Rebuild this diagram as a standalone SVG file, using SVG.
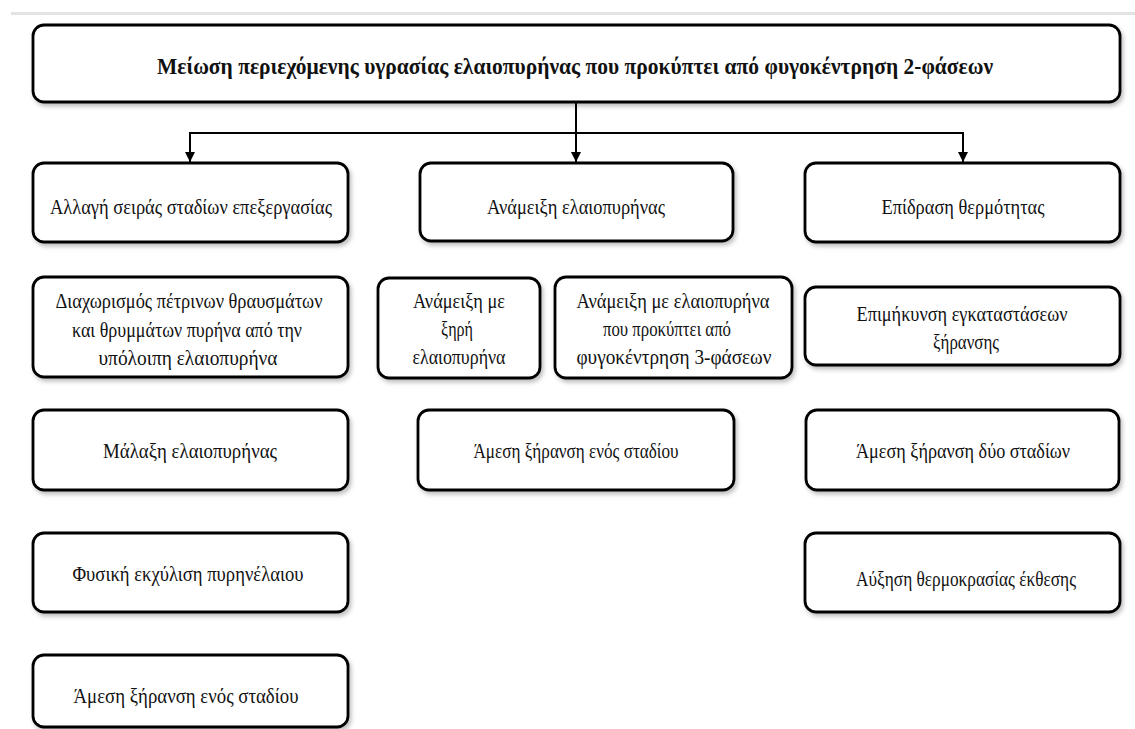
<svg xmlns="http://www.w3.org/2000/svg" width="1135" height="729" viewBox="0 0 1135 729">
<defs>
<filter id="sh" x="-5%" y="-10%" width="115%" height="130%">
<feDropShadow dx="2" dy="3" stdDeviation="2" flood-color="#000" flood-opacity="0.25"/>
</filter>
<marker id="arr" viewBox="0 0 10 10" refX="10" refY="5" markerWidth="5" markerHeight="5" markerUnits="strokeWidth" orient="auto">
<path d="M0,0 L10,5 L0,10 Z" fill="#000"/>
</marker>
</defs>
<style>
.box{fill:#fff;stroke:#000;stroke-width:2.8;filter:url(#sh)}
.t{font-family:"Liberation Serif","Times New Roman",serif;font-size:22px;fill:#111;text-anchor:middle}
.title{font-family:"Liberation Serif","Times New Roman",serif;font-size:23px;font-weight:bold;fill:#111;text-anchor:middle}
.conn{stroke:#000;stroke-width:2;fill:none}
</style>
<rect width="1135" height="729" fill="#fff"/>
<line x1="11" y1="13.5" x2="1135" y2="13.5" stroke="#e3e3e3" stroke-width="3"/>

<g id="title">
<rect class="box" x="33" y="25" width="1087" height="77" rx="11"/>
<text class="title" x="575" y="74" textLength="836" lengthAdjust="spacingAndGlyphs">Μείωση περιεχόμενης υγρασίας ελαιοπυρήνας που προκύπτει από φυγοκέντρηση 2-φάσεων</text>
</g>

<g id="connectors">
<line class="conn" x1="576" y1="103" x2="576" y2="162" marker-end="url(#arr)"/>
<line class="conn" x1="190" y1="133" x2="963" y2="133"/>
<line class="conn" x1="190" y1="132" x2="190" y2="162" marker-end="url(#arr)"/>
<line class="conn" x1="963" y1="132" x2="963" y2="162" marker-end="url(#arr)"/>
</g>

<g id="a1">
<rect class="box" x="33" y="163" width="315" height="79" rx="11"/>
<text class="t" x="191" y="214" textLength="282" lengthAdjust="spacingAndGlyphs">Αλλαγή σειράς σταδίων επεξεργασίας</text>
</g>
<g id="a2">
<rect class="box" x="33" y="277" width="315" height="100" rx="11"/>
<text class="t" x="189" y="308" textLength="267" lengthAdjust="spacingAndGlyphs">Διαχωρισμός πέτρινων θραυσμάτων</text>
<text class="t" x="187" y="337" textLength="230" lengthAdjust="spacingAndGlyphs">και θρυμμάτων πυρήνα από την</text>
<text class="t" x="188" y="365" textLength="179" lengthAdjust="spacingAndGlyphs">υπόλοιπη ελαιοπυρήνα</text>
</g>
<g id="a3">
<rect class="box" x="33" y="410" width="315" height="80" rx="11"/>
<text class="t" x="190" y="458" textLength="174" lengthAdjust="spacingAndGlyphs">Μάλαξη ελαιοπυρήνας</text>
</g>
<g id="a4">
<rect class="box" x="33" y="533" width="315" height="79" rx="11"/>
<text class="t" x="188" y="581" textLength="231" lengthAdjust="spacingAndGlyphs">Φυσική εκχύλιση πυρηνέλαιου</text>
</g>
<g id="a5">
<rect class="box" x="33" y="655" width="315" height="72" rx="11"/>
<text class="t" x="186" y="703" textLength="225" lengthAdjust="spacingAndGlyphs">Άμεση ξήρανση ενός σταδίου</text>
</g>

<g id="b1">
<rect class="box" x="420" y="163" width="313" height="78" rx="11"/>
<text class="t" x="576" y="214" textLength="178" lengthAdjust="spacingAndGlyphs">Ανάμειξη ελαιοπυρήνας</text>
</g>
<g id="b2a">
<rect class="box" x="378" y="278" width="162" height="100" rx="11"/>
<text class="t" x="459" y="308" textLength="92" lengthAdjust="spacingAndGlyphs">Ανάμειξη με</text>
<text class="t" x="457" y="336" textLength="32" lengthAdjust="spacingAndGlyphs">ξηρή</text>
<text class="t" x="459" y="364" textLength="93" lengthAdjust="spacingAndGlyphs">ελαιοπυρήνα</text>
</g>
<g id="b2b">
<rect class="box" x="555" y="277" width="237" height="101" rx="11"/>
<text class="t" x="673" y="308" textLength="193" lengthAdjust="spacingAndGlyphs">Ανάμειξη με ελαιοπυρήνα</text>
<text class="t" x="667" y="336" textLength="128" lengthAdjust="spacingAndGlyphs">που προκύπτει από</text>
<text class="t" x="674" y="364" textLength="195" lengthAdjust="spacingAndGlyphs">φυγοκέντρηση 3-φάσεων</text>
</g>
<g id="b3">
<rect class="box" x="418" y="410" width="316" height="80" rx="11"/>
<text class="t" x="576" y="458" textLength="205" lengthAdjust="spacingAndGlyphs">Άμεση ξήρανση ενός σταδίου</text>
</g>

<g id="c1">
<rect class="box" x="805" y="163" width="315" height="79" rx="11"/>
<text class="t" x="963" y="214" textLength="163" lengthAdjust="spacingAndGlyphs">Επίδραση θερμότητας</text>
</g>
<g id="c2">
<rect class="box" x="805" y="287" width="315" height="78" rx="11"/>
<text class="t" x="962" y="321" textLength="211" lengthAdjust="spacingAndGlyphs">Επιμήκυνση εγκαταστάσεων</text>
<text class="t" x="966" y="349" textLength="66" lengthAdjust="spacingAndGlyphs">ξήρανσης</text>
</g>
<g id="c3">
<rect class="box" x="806" y="410" width="313" height="80" rx="11"/>
<text class="t" x="963" y="458" textLength="214" lengthAdjust="spacingAndGlyphs">Άμεση ξήρανση δύο σταδίων</text>
</g>
<g id="c4">
<rect class="box" x="805" y="533" width="315" height="79" rx="11"/>
<text class="t" x="966" y="586" textLength="220" lengthAdjust="spacingAndGlyphs">Αύξηση θερμοκρασίας έκθεσης</text>
</g>
</svg>
